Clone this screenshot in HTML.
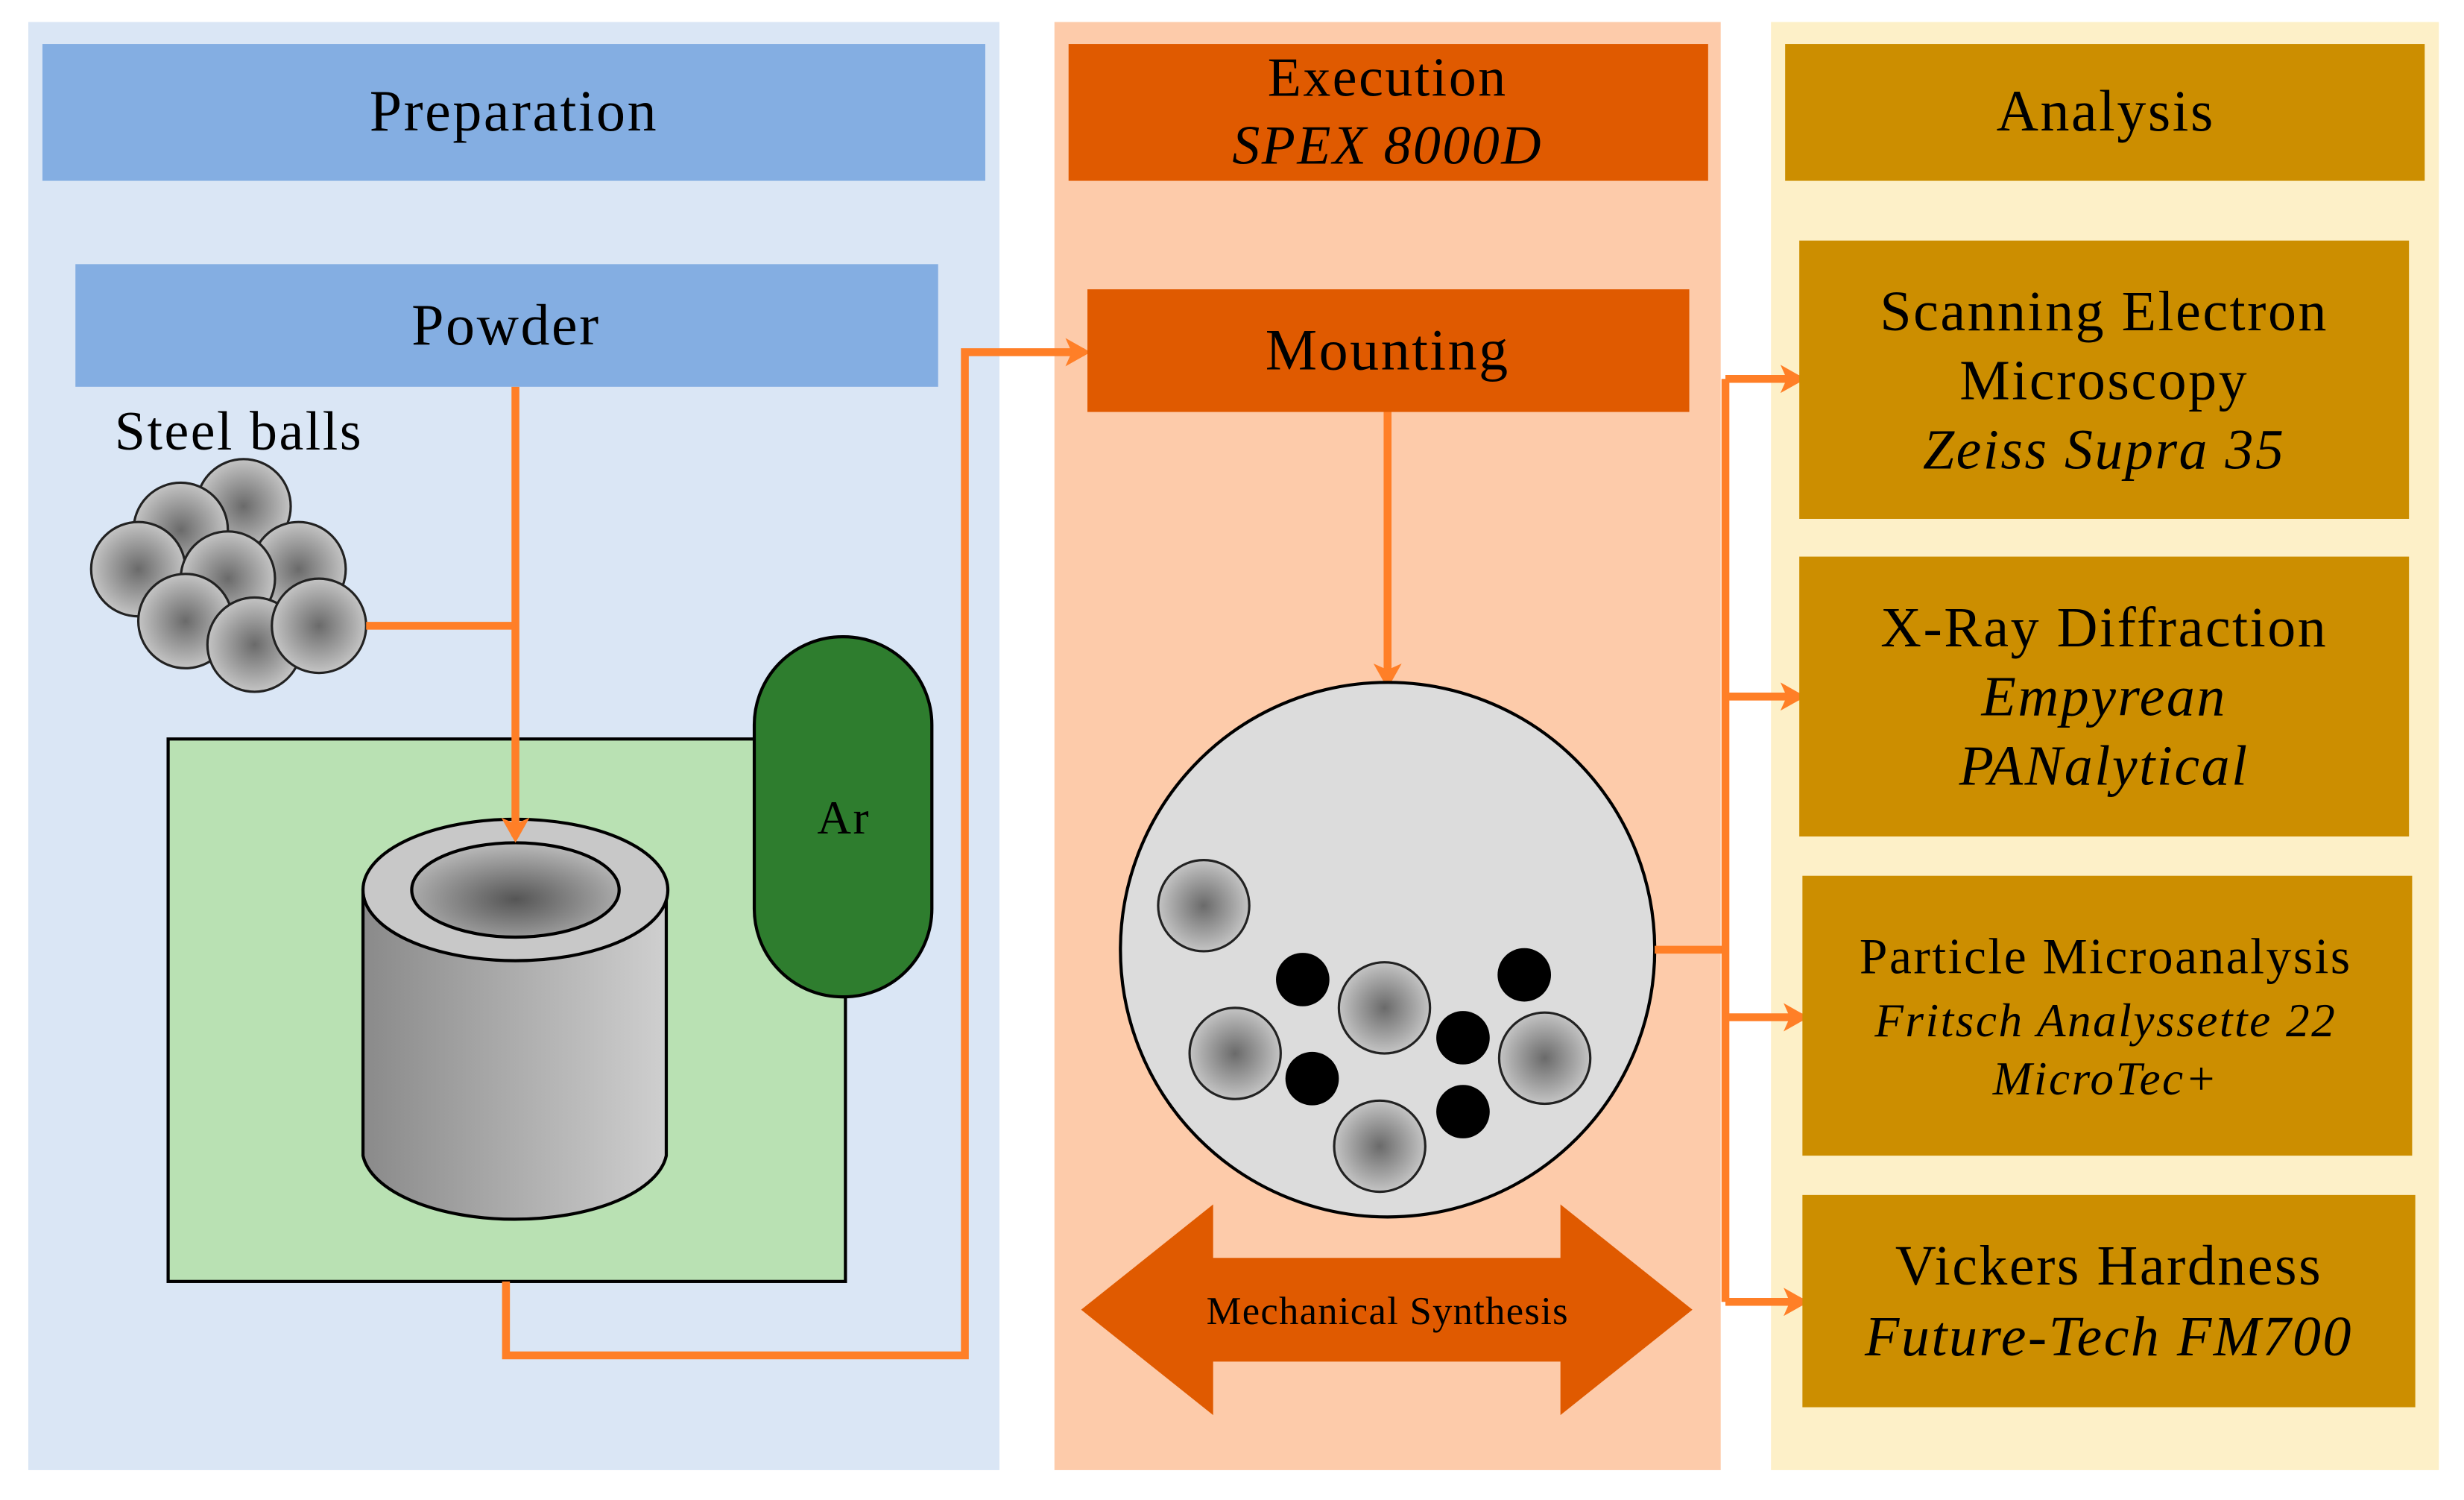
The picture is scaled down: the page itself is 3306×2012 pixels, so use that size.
<!DOCTYPE html>
<html><head><meta charset="utf-8"><style>
html,body{margin:0;padding:0;background:#fff}
svg{display:block}
text{font-family:"Liberation Serif",serif;fill:#000;letter-spacing:1.2px}
</style></head><body>
<svg width="3306" height="2012" viewBox="0 0 1568 954" preserveAspectRatio="none" xmlns="http://www.w3.org/2000/svg">
<defs>
<radialGradient id="ball" cx="50%" cy="50%" r="50%"><stop offset="0" stop-color="#6a6a6a"/><stop offset="1" stop-color="#c4c4c4"/></radialGradient>
<linearGradient id="cyl" x1="0" x2="1"><stop offset="0" stop-color="#8a8a8a"/><stop offset="1" stop-color="#cfcfcf"/></linearGradient>
<radialGradient id="hole" cx="50%" cy="60%" r="60%"><stop offset="0" stop-color="#555"/><stop offset="1" stop-color="#bbb"/></radialGradient>
<marker id="ah" markerWidth="16" markerHeight="18" refX="12" refY="9" orient="auto" markerUnits="userSpaceOnUse" viewBox="0 0 16 18"><path d="M0,0 L16,9 L0,18 L4,9 Z" fill="#ff7f27"/></marker>
</defs>
<rect x="18" y="14" width="618" height="921" fill="#dae6f5"/>
<rect x="671" y="14" width="424" height="921" fill="#fdcbaa"/>
<rect x="1127" y="14" width="425" height="921" fill="#fdf0c8"/>
<rect x="27" y="28" width="600" height="87" fill="#84aee2"/>
<text x="327" y="83" font-size="37" text-anchor="middle">Preparation</text>
<rect x="680" y="28" width="407" height="87" fill="#e05a00"/>
<text x="883" y="61" font-size="35" text-anchor="middle">Execution</text>
<text x="883" y="104" font-size="35" font-style="italic" text-anchor="middle">SPEX 8000D</text>
<rect x="1136" y="28" width="407" height="87" fill="#cc8e00"/>
<text x="1340" y="83" font-size="37" text-anchor="middle">Analysis</text>
<rect x="48" y="168" width="549" height="78" fill="#84aee2"/>
<text x="322" y="219" font-size="37" text-anchor="middle">Powder</text>
<text x="152" y="286" font-size="35" text-anchor="middle">Steel balls</text>
<g stroke="#222" stroke-width="1.5" fill="url(#ball)">
<circle cx="155" cy="322" r="30"/><circle cx="115" cy="337" r="30"/><circle cx="88" cy="362" r="30"/><circle cx="190" cy="362" r="30"/><circle cx="145" cy="368" r="30"/><circle cx="118" cy="395" r="30"/><circle cx="162" cy="410" r="30"/><circle cx="203" cy="398" r="30"/>
</g>
<rect x="107" y="470" width="431" height="345" fill="#b9e1b3" stroke="#000" stroke-width="2"/>
<rect x="480" y="405" width="113" height="229" rx="56" fill="#2e7d2e" stroke="#000" stroke-width="2"/>
<text x="537" y="530" font-size="30" text-anchor="middle">Ar</text>
<path d="M231,566 L231,735 A97,45 0 0 0 424,735 L424,566 Z" fill="url(#cyl)" stroke="#000" stroke-width="2"/>
<ellipse cx="328" cy="566" rx="97" ry="45" fill="#c8c8c8" stroke="#000" stroke-width="2"/>
<ellipse cx="328" cy="566" rx="66" ry="30" fill="url(#hole)" stroke="#000" stroke-width="2"/>
<g stroke="#ff7f27" stroke-width="5" fill="none">
<line x1="328" y1="246" x2="328" y2="532" marker-end="url(#ah)"/>
<line x1="233" y1="398" x2="328" y2="398"/>
<polyline points="322,815 322,862 614,862 614,224 690,224" marker-end="url(#ah)"/>
<line x1="883" y1="262" x2="883" y2="434" marker-end="url(#ah)"/>
</g>
<rect x="692" y="184" width="383" height="78" fill="#e05a00"/>
<text x="883" y="235" font-size="37" text-anchor="middle">Mounting</text>
<circle cx="883" cy="604" r="170" fill="#dcdcdc" stroke="#000" stroke-width="2"/>
<g stroke="#222" stroke-width="1.5" fill="url(#ball)">
<circle cx="766" cy="576" r="29"/><circle cx="881" cy="641" r="29"/><circle cx="786" cy="670" r="29"/><circle cx="983" cy="673" r="29"/><circle cx="878" cy="729" r="29"/>
</g>
<g fill="#000"><circle cx="829" cy="623" r="17"/><circle cx="970" cy="620" r="17"/><circle cx="931" cy="660" r="17"/><circle cx="835" cy="686" r="17"/><circle cx="931" cy="707" r="17"/></g>
<path d="M688,833 L772,766 L772,800 L993,800 L993,766 L1077,833 L993,900 L993,866 L772,866 L772,900 Z" fill="#e05a00"/>
<text x="883" y="842" font-size="25" text-anchor="middle" style="letter-spacing:0.6px">Mechanical Synthesis</text>
<g stroke="#ff7f27" stroke-width="5" fill="none">
<polyline points="1053,604 1098,604"/>
<line x1="1098" y1="241" x2="1098" y2="828"/>
<line x1="1098" y1="241" x2="1145" y2="241" marker-end="url(#ah)"/>
<line x1="1098" y1="443" x2="1145" y2="443" marker-end="url(#ah)"/>
<line x1="1098" y1="647" x2="1147" y2="647" marker-end="url(#ah)"/>
<line x1="1098" y1="828" x2="1147" y2="828" marker-end="url(#ah)"/>
</g>
<rect x="1145" y="153" width="388" height="177" fill="#cc8e00"/>
<text x="1339" y="210" font-size="36" text-anchor="middle">Scanning Electron</text>
<text x="1339" y="254" font-size="36" text-anchor="middle">Microscopy</text>
<text x="1339" y="298" font-size="36" font-style="italic" text-anchor="middle">Zeiss Supra 35</text>
<rect x="1145" y="354" width="388" height="178" fill="#cc8e00"/>
<text x="1339" y="411" font-size="36" text-anchor="middle">X-Ray Diffraction</text>
<text x="1339" y="455" font-size="36" font-style="italic" text-anchor="middle">Empyrean</text>
<text x="1339" y="499" font-size="36" font-style="italic" text-anchor="middle">PANalytical</text>
<rect x="1147" y="557" width="388" height="178" fill="#cc8e00"/>
<text x="1340" y="619" font-size="32" text-anchor="middle">Particle Microanalysis</text>
<text x="1340" y="659" font-size="30" font-style="italic" text-anchor="middle">Fritsch Analyssette 22</text>
<text x="1340" y="696" font-size="30" font-style="italic" text-anchor="middle">MicroTec+</text>
<rect x="1147" y="760" width="390" height="135" fill="#cc8e00"/>
<text x="1342" y="817" font-size="36" text-anchor="middle">Vickers Hardness</text>
<text x="1342" y="862" font-size="36" font-style="italic" text-anchor="middle">Future-Tech FM700</text>
</svg>
</body></html>
